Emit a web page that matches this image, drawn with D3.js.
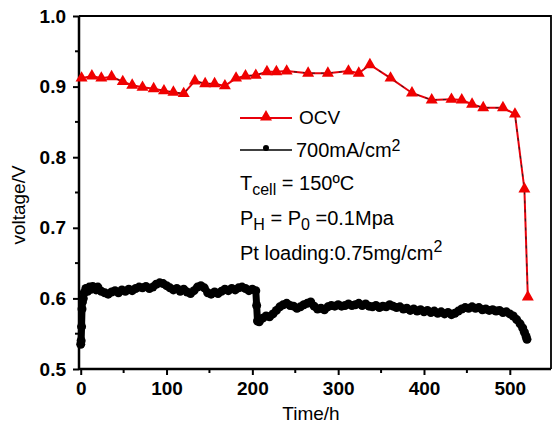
<!DOCTYPE html>
<html>
<head>
<meta charset="utf-8">
<script src="https://cdn.jsdelivr.net/npm/d3@7"></script>
<style>
  body { margin: 0; background: #fff; }
  svg { display: block; font-family: Arial, "Liberation Sans", sans-serif; }
</style>
</head>
<body>
<div id="chart"></div>
<script>
// OCV series (red triangles)
const ocvTime = [1, 13, 24, 36, 49, 60, 72, 85, 97, 108, 120, 133, 145, 156, 168, 181, 192, 204, 217, 228, 240,
    265, 288, 312, 324, 337, 361, 386, 409, 432, 444, 456, 469, 492, 506, 517, 521];
const ocvVolt = [0.912, 0.915, 0.912, 0.914, 0.907, 0.902, 0.899, 0.897, 0.894, 0.892, 0.890, 0.908, 0.904, 0.904,
    0.901, 0.912, 0.915, 0.916, 0.921, 0.921, 0.922, 0.919, 0.919, 0.922, 0.919, 0.931, 0.912, 0.891, 0.881,
    0.882, 0.881, 0.875, 0.870, 0.870, 0.861, 0.755, 0.602];

// 700mA/cm2 series (black dots)
const loadTime = [0, 0.5, 1, 1.5, 2, 3, 4, 6, 8, 10, 12, 14, 16, 18, 20, 24, 28, 32, 36, 40, 44, 48, 52, 56, 60,
    64, 68, 72, 76, 80, 84, 88, 92, 96, 100, 104, 108, 112, 116, 120, 124, 128, 132, 136, 140, 144, 148, 152,
    156, 160, 164, 168, 172, 176, 180, 184, 188, 192, 196, 200, 204, 205, 206, 208, 212, 216, 220, 224, 228,
    232, 236, 240, 244, 248, 252, 256, 260, 264, 268, 272, 276, 280, 284, 288, 292, 296, 300, 304, 308, 312,
    316, 320, 324, 328, 332, 336, 340, 344, 348, 352, 356, 360, 364, 368, 372, 376, 380, 384, 388, 392, 396,
    400, 404, 408, 412, 416, 420, 424, 428, 432, 436, 440, 444, 448, 452, 456, 460, 464, 468, 472, 476, 480,
    484, 488, 492, 496, 500, 504, 508, 512, 515, 517, 519, 520];
const loadVolt = [0.535, 0.540, 0.560, 0.585, 0.595, 0.600, 0.608, 0.614, 0.610, 0.616, 0.613, 0.617, 0.615,
    0.612, 0.616, 0.610, 0.608, 0.606, 0.609, 0.611, 0.608, 0.612, 0.610, 0.613, 0.611, 0.614, 0.616, 0.615,
    0.617, 0.614, 0.616, 0.620, 0.622, 0.621, 0.618, 0.615, 0.612, 0.614, 0.610, 0.613, 0.609, 0.607, 0.611,
    0.616, 0.618, 0.615, 0.608, 0.606, 0.609, 0.607, 0.610, 0.613, 0.611, 0.614, 0.612, 0.615, 0.616, 0.614,
    0.611, 0.613, 0.611, 0.590, 0.568, 0.567, 0.572, 0.575, 0.574, 0.578, 0.583, 0.588, 0.591, 0.593, 0.590,
    0.589, 0.586, 0.588, 0.591, 0.593, 0.595, 0.589, 0.585, 0.586, 0.584, 0.588, 0.590, 0.589, 0.591, 0.589,
    0.590, 0.592, 0.590, 0.591, 0.593, 0.590, 0.592, 0.589, 0.588, 0.590, 0.587, 0.589, 0.588, 0.591, 0.589,
    0.587, 0.588, 0.585, 0.586, 0.583, 0.585, 0.582, 0.584, 0.581, 0.583, 0.580, 0.582, 0.579, 0.581, 0.578,
    0.580, 0.577, 0.579, 0.582, 0.585, 0.587, 0.586, 0.588, 0.586, 0.587, 0.584, 0.585, 0.583, 0.584, 0.582,
    0.583, 0.580, 0.581, 0.578, 0.575, 0.570, 0.564, 0.558, 0.552, 0.546, 0.542];

const xTicks = [0, 100, 200, 300, 400, 500];
const yTicks = [0.5, 0.6, 0.7, 0.8, 0.9, 1.0];

const width = 553, height = 429;
const plot = { left: 79, right: 551, top: 16, bottom: 369 };

const svg = d3.select("#chart").append("svg")
    .attr("width", width)
    .attr("height", height);

const x = d3.scaleLinear().domain([-2, 548]).range([plot.left, plot.right]);
const y = d3.scaleLinear().domain([0.5, 1.0]).range([plot.bottom, plot.top]);

// frame (top and right)
svg.append("path")
    .attr("d", `M${plot.left},${plot.top}H${plot.right}V${plot.bottom}`)
    .attr("fill", "none")
    .attr("stroke", "#000")
    .attr("stroke-width", 1.8);

// minor ticks
const xMinor = d3.range(50, 548, 100);
const yMinor = d3.range(0.55, 1.0, 0.1);
svg.append("g").selectAll("line").data(xMinor).enter().append("line")
    .attr("x1", d => x(d)).attr("x2", d => x(d))
    .attr("y1", plot.bottom).attr("y2", plot.bottom + 4)
    .attr("stroke", "#000").attr("stroke-width", 2);
svg.append("g").selectAll("line").data(yMinor).enter().append("line")
    .attr("x1", plot.left - 4).attr("x2", plot.left)
    .attr("y1", d => y(d)).attr("y2", d => y(d))
    .attr("stroke", "#000").attr("stroke-width", 2);

// axes
const xAxis = svg.append("g")
    .attr("transform", `translate(0,${plot.bottom})`)
    .call(d3.axisBottom(x).tickValues(xTicks).tickSize(6).tickPadding(7).tickFormat(d3.format("d")));
const yAxis = svg.append("g")
    .attr("transform", `translate(${plot.left},0)`)
    .call(d3.axisLeft(y).tickValues(yTicks).tickSize(6).tickPadding(7).tickFormat(d3.format(".1f")));

[xAxis, yAxis].forEach(a => {
    a.select(".domain").attr("stroke-width", 2.5).attr("d", a === xAxis
        ? `M${plot.left},0H${plot.right}` : `M0,${plot.top}V${plot.bottom}`);
    a.selectAll(".tick line").attr("stroke-width", 2);
    a.selectAll(".tick text")
        .attr("font-size", 19)
        .attr("font-weight", "bold")
        .attr("fill", "#000")
        .attr("font-family", "Arial, 'Liberation Sans', sans-serif");
});

// axis titles
svg.append("text")
    .attr("x", 311).attr("y", 420)
    .attr("text-anchor", "middle")
    .attr("font-size", 19)
    .text("Time/h");
svg.append("text")
    .attr("transform", "translate(25,205) rotate(-90)")
    .attr("text-anchor", "middle")
    .attr("font-size", 19)
    .text("voltage/V");

// 700mA/cm2 series
const loadData = loadTime.map((t, i) => [t, loadVolt[i]]);
const line = d3.line().x(d => x(d[0])).y(d => y(d[1]));
svg.append("path")
    .datum(loadData)
    .attr("d", line)
    .attr("fill", "none")
    .attr("stroke", "#000")
    .attr("stroke-width", 7)
    .attr("stroke-linejoin", "round");
svg.append("g").selectAll("circle").data(loadData).enter().append("circle")
    .attr("cx", d => x(d[0]))
    .attr("cy", d => y(d[1]))
    .attr("r", 4.5)
    .attr("fill", "#000");

// OCV series
const ocvData = ocvTime.map((t, i) => [t, ocvVolt[i]]);
svg.append("path")
    .datum(ocvData)
    .attr("d", line)
    .attr("fill", "none")
    .attr("stroke", "#e8000b")
    .attr("stroke-width", 2);
svg.append("path")
    .datum(ocvData)
    .attr("d", line)
    .attr("fill", "none")
    .attr("stroke", "#222")
    .attr("stroke-width", 1)
    .attr("stroke-dasharray", "3,6");
const tri = d3.symbol().type(d3.symbolTriangle).size(62);
svg.append("g").selectAll("path").data(ocvData).enter().append("path")
    .attr("d", tri)
    .attr("transform", d => `translate(${x(d[0])},${y(d[1])})`)
    .attr("fill", "#f00000");

// legend
const lg = svg.append("g");
lg.append("line").attr("x1", 240).attr("x2", 292).attr("y1", 118).attr("y2", 118)
    .attr("stroke", "#e8000b").attr("stroke-width", 2);
lg.append("path").attr("d", tri).attr("transform", "translate(266,117)").attr("fill", "#f00000");
lg.append("text").attr("x", 299).attr("y", 124).attr("font-size", 19).text("OCV");

lg.append("line").attr("x1", 240).attr("x2", 292).attr("y1", 150).attr("y2", 150)
    .attr("stroke", "#000").attr("stroke-width", 1.5);
lg.append("circle").attr("cx", 266).attr("cy", 148).attr("r", 3).attr("fill", "#000");
const t2 = lg.append("text").attr("x", 296).attr("y", 157).attr("font-size", 20);
t2.append("tspan").text("700mA/cm");
t2.append("tspan").attr("font-size", 16).attr("dy", -6).text("2");

const t3 = lg.append("text").attr("x", 240).attr("y", 190).attr("font-size", 20);
t3.append("tspan").text("T");
t3.append("tspan").attr("font-size", 16).attr("dy", 5).text("cell");
t3.append("tspan").attr("dy", -5).text(" = 150ºC");

const t4 = lg.append("text").attr("x", 240).attr("y", 225).attr("font-size", 20);
t4.append("tspan").text("P");
t4.append("tspan").attr("font-size", 16).attr("dy", 5).text("H");
t4.append("tspan").attr("dy", -5).text(" = P");
t4.append("tspan").attr("font-size", 16).attr("dy", 5).text("0");
t4.append("tspan").attr("dy", -5).text(" =0.1Mpa");

const t5 = lg.append("text").attr("x", 240).attr("y", 260).attr("font-size", 20);
t5.append("tspan").text("Pt loading:0.75mg/cm");
t5.append("tspan").attr("font-size", 16).attr("dy", -8).text("2");
</script>
</body>
</html>
